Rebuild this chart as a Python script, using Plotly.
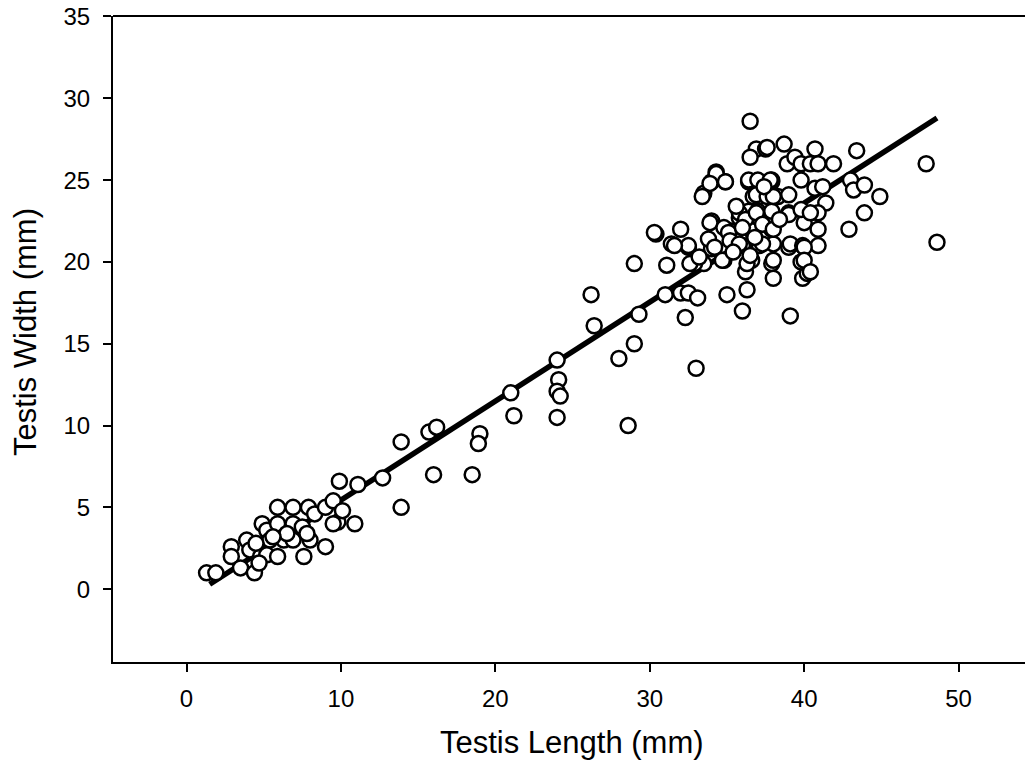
import plotly.graph_objects as go

# Testis length (mm) and width (mm) for each specimen
length_mm = [
    1.3, 1.9, 2.9, 2.9, 3.5, 3.9, 4.1, 4.4, 4.8, 4.9, 5.2, 5.4, 5.2, 4.7,
    5.9, 5.9, 5.9, 6.3, 6.9, 6.9, 6.9, 7.6, 7.5, 7.9, 8.0, 8.3, 9.0, 9.0,
    9.5, 9.9, 11.1, 9.8, 10.1, 10.9, 7.8, 9.5, 6.5, 5.6, 4.5,
    12.7, 13.9, 13.9, 15.7, 16.2, 16.0, 18.5, 19.0, 18.9, 21.0, 21.2,
    24.0, 24.1, 24.0, 24.2, 24.0, 28.0, 29.0, 28.6, 26.2, 26.4, 29.3, 29.0,
    31.0, 31.1, 30.4, 31.4, 32.0, 32.5, 32.0, 32.5, 33.1, 32.3, 33.0,
    33.5, 34.0, 34.3, 34.9, 34.0, 33.5, 32.9, 34.0, 33.8, 34.8, 35.0,
    36.3, 36.0, 36.2, 35.2, 35.8, 36.2, 36.0, 36.6, 37.1, 38.0, 39.0,
    37.9, 38.0, 39.1, 39.9, 40.2, 36.4, 37.0, 37.9, 36.7, 37.1, 37.7,
    38.3, 39.0, 36.4, 37.0, 37.9, 39.0, 40.0, 37.9, 39.1, 39.9, 39.8,
    36.6, 36.5, 36.9, 37.5, 36.5, 34.3, 33.9, 34.9, 33.4, 36.4, 37.0,
    37.9, 32.5, 33.9, 34.8, 35.1, 35.2, 35.8, 36.2, 36.0, 35.8, 36.9,
    37.3, 38.0, 37.3, 36.3, 36.5, 36.9, 37.6, 34.2, 34.7, 32.6,
    37.6, 38.7, 40.7, 43.4, 38.9, 39.4, 39.8, 40.4, 40.9, 41.9, 37.8,
    39.8, 40.7, 43.0, 43.2, 43.9, 44.9, 43.9, 42.9, 41.4, 40.9, 40.9,
    40.9, 40.0, 39.0, 38.0, 40.0, 40.4, 38.0, 39.8, 40.4, 47.9, 48.6,
    30.3, 31.6, 33.2, 35.4, 38.4, 41.2, 36.8, 35.6, 37.4,
]
width_mm = [
    1.0, 1.0, 2.6, 2.0, 1.3, 3.0, 2.4, 1.0, 2.0, 4.0, 3.6, 3.0, 2.1, 1.6,
    5.0, 4.0, 2.0, 3.0, 5.0, 4.0, 3.0, 2.0, 3.8, 5.0, 3.0, 4.6, 5.0, 2.6,
    5.4, 6.6, 6.4, 4.1, 4.8, 4.0, 3.4, 4.0, 3.4, 3.2, 2.8,
    6.8, 9.0, 5.0, 9.6, 9.9, 7.0, 7.0, 9.5, 8.9, 12.0, 10.6,
    14.0, 12.8, 12.1, 11.8, 10.5, 14.1, 15.0, 10.0, 18.0, 16.1, 16.8, 19.9,
    18.0, 19.8, 21.7, 21.1, 22.0, 20.9, 18.1, 18.1, 17.8, 16.6, 13.5,
    24.2, 24.9, 25.5, 24.9, 22.5, 19.9, 19.9, 20.8, 21.4, 20.1, 18.0,
    18.3, 17.0, 19.4, 21.9, 22.7, 22.4, 21.0, 21.9, 21.0, 21.1, 20.9,
    19.9, 19.0, 16.7, 19.0, 19.3, 24.9, 24.9, 24.9, 24.0, 24.0, 24.0,
    24.0, 24.1, 23.1, 23.1, 23.1, 23.0, 22.4, 22.0, 21.1, 21.0, 20.0,
    20.1, 28.6, 26.9, 26.9, 26.4, 25.4, 24.8, 24.9, 24.0, 25.0, 25.0,
    25.0, 21.0, 22.4, 22.1, 21.8, 21.3, 23.0, 22.6, 22.1, 21.1, 23.0,
    22.3, 22.0, 21.1, 19.9, 20.4, 24.1, 24.0, 20.9, 20.1, 19.9,
    27.0, 27.2, 26.9, 26.8, 26.0, 26.4, 26.0, 26.0, 26.0, 26.0, 25.0,
    25.0, 24.5, 25.0, 24.4, 24.7, 24.0, 23.0, 22.0, 23.6, 23.0, 22.0,
    21.0, 20.9, 22.9, 24.0, 20.1, 19.4, 20.1, 23.2, 23.0, 26.0, 21.2,
    21.8, 21.0, 20.3, 20.6, 22.6, 24.6, 21.5, 23.4, 24.6,
]

# Fitted regression line end points
fit_length = [1.5, 48.6]
fit_width = [0.3, 28.8]

x_ticks = [0, 10, 20, 30, 40, 50]
y_ticks = [0, 5, 10, 15, 20, 25, 30, 35]

fig = go.Figure()
fig.add_trace(go.Scatter(
    x=fit_length, y=fit_width, mode="lines",
    line=dict(color="black", width=5.5), showlegend=False, hoverinfo="skip",
))
fig.add_trace(go.Scatter(
    x=length_mm, y=width_mm, mode="markers",
    marker=dict(symbol="circle", size=15, color="white",
                line=dict(color="black", width=2.5)),
    showlegend=False,
))

font_family = "Liberation Sans, Arial, sans-serif"
fig.update_layout(
    width=1025, height=778,
    margin=dict(l=113, r=0, t=16, b=116),
    paper_bgcolor="white", plot_bgcolor="white",
    font=dict(family=font_family, color="black", size=24),
    xaxis=dict(
        range=[-4.76, 54.3], tickvals=x_ticks, ticks="outside", ticklen=8,
        tickwidth=2, tickcolor="black", showgrid=False, zeroline=False,
        showline=True, linecolor="black", linewidth=2, mirror=False,
        tickfont=dict(size=24), ticklabelstandoff=6,
        ticklabeloverflow="allow", automargin=False,
    ),
    yaxis=dict(
        range=[-4.45, 35.03], tickvals=y_ticks, ticks="outside", ticklen=8,
        tickwidth=2, tickcolor="black", showgrid=False, zeroline=False,
        showline=True, linecolor="black", linewidth=2, mirror=False,
        tickfont=dict(size=24), ticklabelstandoff=8,
        ticklabeloverflow="allow", automargin=False,
    ),
    shapes=[dict(type="line", xref="paper", yref="paper", x0=0, x1=1, y0=1, y1=1,
                 line=dict(color="black", width=2))],
    annotations=[
        dict(text="Testis Length (mm)", xref="paper", yref="paper", x=0.5, y=0,
             xanchor="center", yanchor="middle", xshift=3, yshift=-80,
             showarrow=False, font=dict(size=31)),
        dict(text="Testis Width (mm)", xref="paper", yref="paper", x=0, y=0.5,
             xanchor="center", yanchor="middle", xshift=-88, yshift=7,
             textangle=-90, showarrow=False, font=dict(size=31)),
    ],
)

fig.write_html(
    "out.html",
    config={"displayModeBar": False},
    post_script="document.body.style.margin='0';document.body.style.overflow='hidden';",
)
